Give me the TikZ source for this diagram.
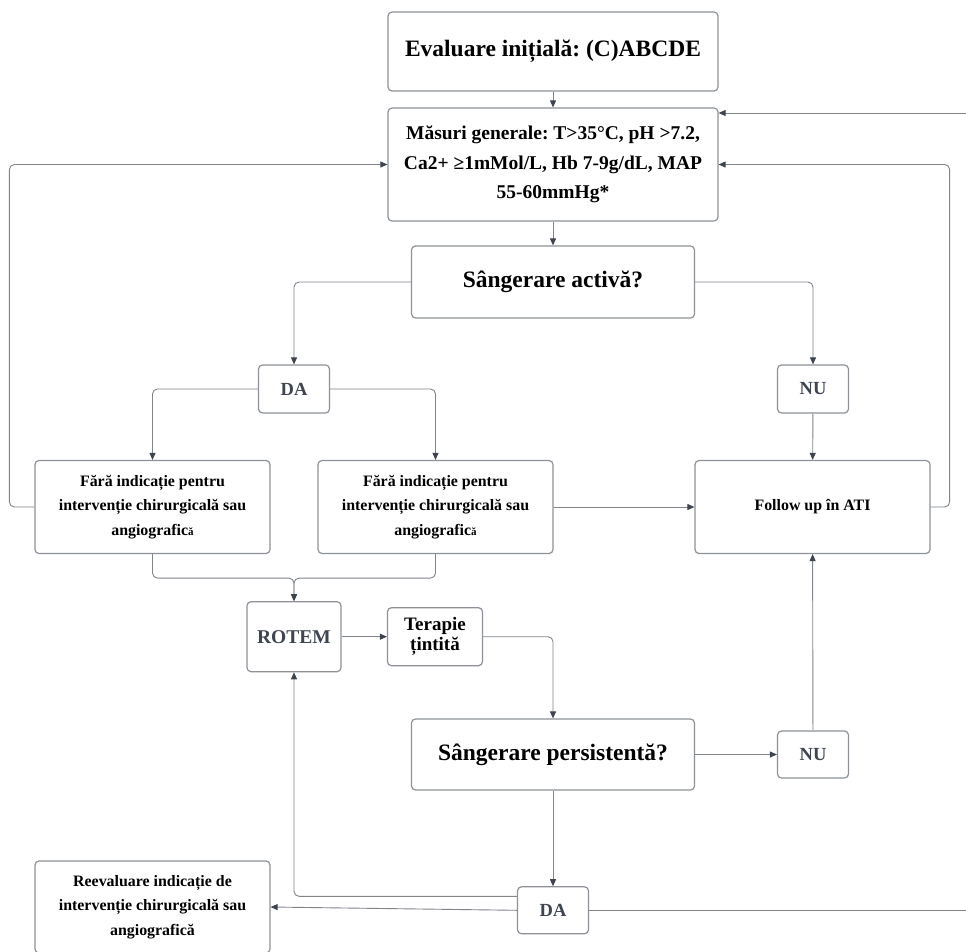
\documentclass[tikz,border=0pt]{standalone}
\usepackage{fontspec}
\setmainfont{Liberation Serif}
\usetikzlibrary{arrows.meta}
\definecolor{boxc}{HTML}{8E9298}
\definecolor{linec}{HTML}{80858C}
\definecolor{tipc}{HTML}{3D444E}
\definecolor{dtext}{HTML}{3F4550}
\newcommand{\fsz}[2]{\fontsize{#1}{#2}\selectfont}
\frenchspacing
\tikzset{
  fbox/.style={draw=boxc, line width=1.2pt, rounded corners=4pt, fill=white,
    align=center, inner sep=0pt},
  bigbox/.style={fbox, font=\bfseries\fsz{23.5}{28}},
  smallbox/.style={fbox, minimum width=71pt, minimum height=48pt,
    text=dtext, font=\bfseries\fsz{18.5}{20}},
  txtbox/.style={fbox, minimum width=235pt, minimum height=93pt,
    font=\bfseries\fsz{15.9}{24.5}},
  conn/.style={draw=linec, line width=0.9pt, rounded corners=5pt},
  arr/.style={conn, -{Triangle[length=7pt,width=6pt,color=tipc]}}
}
\begin{document}
\begin{tikzpicture}[x=1pt,y=-1pt]
\clip (0,0) rectangle (966,952);
\fill[white] (0,0) rectangle (966,952);

% nodes
\node[bigbox, minimum width=330pt, minimum height=79pt] (eval) at (553,51.5) {Evaluare inițială: (C)ABCDE};
\node[fbox, minimum width=330pt, minimum height=113pt, font=\bfseries\fsz{19.5}{29.5}] (mas) at (553,164.5)
  {Măsuri generale: T>35°C, pH >7.2,\\ Ca2+ ≥1mMol/L, Hb 7-9g/dL, MAP\\ 55-60mmHg*};
\node[bigbox, minimum width=283pt, minimum height=72pt] (sa) at (553,282) {Sângerare activă?};
\node[smallbox] (da1) at (294,389) {DA};
\node[smallbox] (nu1) at (813,389) {NU};
\node[txtbox] (f1) at (152.5,507) {Fără indicație pentru\\ intervenție chirurgicală sau\\ angiografic{\fsz{11}{11}ă}};
\node[txtbox] (f2) at (435.5,507) {Fără indicație pentru\\ intervenție chirurgicală sau\\ angiografic{\fsz{11}{11}ă}};
\node[txtbox] (fol) at (812.5,507) {Follow up în ATI};
\node[fbox, minimum width=94pt, minimum height=70pt, text=dtext, font=\bfseries\fsz{19.5}{22}] (rot) at (294,636.7) {ROTEM};
\node[fbox, minimum width=95pt, minimum height=58pt, font=\bfseries\fsz{19}{20}] (ter) at (435,636.7) {Terapie\\ țintită};
\node[bigbox, minimum width=283pt, minimum height=71pt] (sp) at (553,754.5) {Sângerare persistentă?};
\node[smallbox, minimum height=47pt] (nu2) at (813,754.5) {NU};
\node[smallbox, minimum height=47pt] (da2) at (553,910.3) {DA};
\node[txtbox, minimum height=92pt] (rev) at (152.5,907) {Reevaluare indicație de\\ intervenție chirurgicală sau\\ angiografică};

\coordinate (rin) at (966,113);
\coordinate (rout) at (966,910.3);

% connectors
\draw[arr] (eval) -- (mas);
\draw[arr] (rin) -- (mas.east |- rin);
\draw[arr] (fol.east) -- ++(19,0) |- (mas.east);
\draw[arr] (f1.west) -- ++(-25,0) |- (mas.west);
\draw[arr] (mas) -- (sa);
\draw[arr] (sa.west) -| (da1.north);
\draw[arr] (sa.east) -| (nu1.north);
\draw[arr] (da1.west) -| (f1.north);
\draw[arr] (da1.east) -| (f2.north);
\draw[arr] (nu1) -- (fol);
\draw[arr] (f2.east) -- (fol.west);
\draw[arr] (f1.south) -- ++(0,24) -| (rot.north);
\draw[arr] (f2.south) -- ++(0,24) -| (rot.north);
\draw[arr] (rot.east) -- (ter.west);
\draw[arr] (ter.east) -| (sp.north);
\draw[arr] (sp.east) -- (nu2.west);
\draw[arr] (nu2) -- (fol);
\draw[arr] (sp) -- (da2);
\draw[arr] ([yshift=14pt]da2.west) -| (rot.south);
\draw[arr] (da2.west) -- (rev.east);
\draw[conn] (da2.east) -- (rout);
\end{tikzpicture}
\end{document}
